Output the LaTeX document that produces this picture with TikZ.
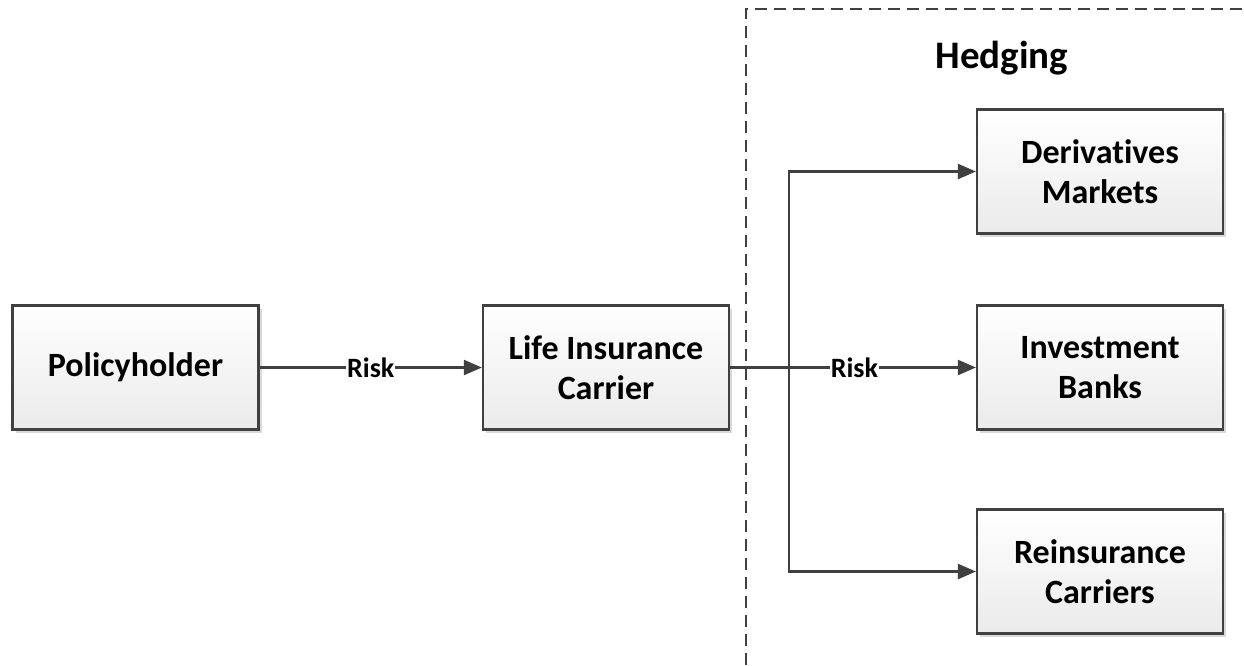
\documentclass[tikz,border=0pt]{standalone}
\usepackage{fontspec}
\setmainfont[Ligatures=NoCommon]{Carlito}
\usetikzlibrary{arrows.meta,shadows}
\definecolor{edge}{HTML}{404040}
\tikzset{
  stepbox/.style={draw=edge, line width=2.2pt, top color=white, bottom color=black!8,
    minimum width=246pt, minimum height=124pt, align=center,
    font=\bfseries\fontsize{34}{40}\selectfont, inner sep=0pt,
    drop shadow={shadow xshift=3pt, shadow yshift=-3pt, fill=black!25, opacity=0.6}},
  flow/.style={draw=edge, line width=2.2pt, -{Triangle[length=18pt,width=15pt]}},
  risklabel/.style={fill=white, inner sep=1pt, font=\bfseries\fontsize{28}{32}\selectfont},
}
\begin{document}
\begin{tikzpicture}[x=1pt,y=-1pt]
\useasboundingbox (0,0) rectangle (1244,665);
% hedging region
\draw[edge, line width=2pt, dash pattern=on 12pt off 7pt] (746,665) -- (746,9) -- (1244,9);
\node[font=\bfseries\fontsize{39}{46}\selectfont] (hedge) at (1002,58) {Hedging};
% boxes
\node[stepbox] (holder) at (135.5,367.5) {Policyholder};
\node[stepbox] (carrier) at (606,367.5) {Life Insurance\\Carrier};
\node[stepbox] (deriv) at (1100,171.5) {Derivatives\\Markets};
\node[stepbox] (banks) at (1100,367.5) {Investment\\Banks};
\node[stepbox] (reins) at (1100,571.5) {Reinsurance\\Carriers};
% branch point
\coordinate (split) at (789,367.5);
% connectors
\draw[flow] (holder) -- node[risklabel]{Risk} (carrier);
\draw[draw=edge, line width=2.2pt] (carrier.east) -- (split);
\draw[flow] (split) -- node[risklabel, pos=0.35]{Risk} (banks);
\draw[flow] (split) |- (deriv.west);
\draw[flow] (split) |- (reins.west);
\end{tikzpicture}
\end{document}
